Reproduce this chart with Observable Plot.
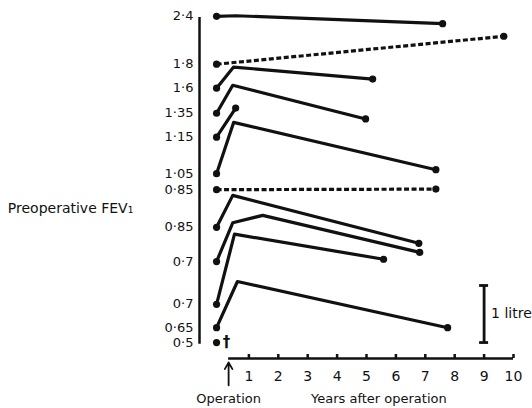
<!DOCTYPE html>
<html>
<head>
<meta charset="utf-8">
<script src="https://cdn.jsdelivr.net/npm/d3@7"></script>
<script src="https://cdn.jsdelivr.net/npm/@observablehq/plot@0.6"></script>
<style>
  html, body { margin: 0; padding: 0; background: #fff; }
  #chart svg { display: block; }
</style>
</head>
<body>
<div id="chart"></div>
<script>
// Preoperative FEV1 (litres) of each patient, top to bottom
const preop = [2.4, 1.8, 1.6, 1.35, 1.15, 1.05, 0.85, 0.85, 0.7, 0.7, 0.65, 0.5];
const preopLabels = ["2·4", "1·8", "1·6", "1·35", "1·15", "1·05", "0·85", "0·85", "0·7", "0·7", "0·65", "0·5"];
// vertical row baseline of each patient on the stacked litre scale
const rowBase = [5.72, 4.88, 4.46, 4.02, 3.60, 2.96, 2.68, 2.02, 1.42, 0.67, 0.26, 0];
// operated (solid) or not (dashed)
const operated = [true, false, true, true, true, true, false, true, true, true, true, true];
const died = [false, false, false, false, false, false, false, false, false, false, false, true];
// time of preoperative measurement (years relative to operation)
const preopYear = -0.1;
// follow-up measurements: years after operation and FEV1 (litres)
const followYears = [
  [0.55, 7.59], [9.67], [0.48, 5.21], [0.45, 4.97], [0.55], [0.48, 7.36],
  [7.36], [0.45, 6.78], [0.45, 1.47, 6.81], [0.51, 5.58], [0.61, 7.76], []
];
const followFev = [
  [2.41, 2.27], [2.29], [1.97, 1.76], [1.84, 1.25], [1.66], [1.95, 1.12],
  [0.86], [1.41, 0.57], [1.38, 1.51, 0.86], [1.93, 1.49], [1.46, 0.65], []
];
const xTicks = [1, 2, 3, 4, 5, 6, 7, 8, 9, 10];
const scaleBarLitres = [0, 1];
const scaleBarYear = 9;
const operationYear = 0.31;

const points = preop.flatMap((p, i) => [
  {id: i, year: preopYear, fev: p, op: operated[i]},
  ...followYears[i].map((yr, j) => ({id: i, year: yr, fev: followFev[i][j], op: operated[i]}))
]).map(d => ({...d, pos: rowBase[d.id] + (d.fev - preop[d.id])}));

const endDots = d3.groups(points, d => d.id).flatMap(([id, pts]) =>
  pts.length > 1 ? [pts[0], pts[pts.length - 1]] : [pts[0]]);

const rows = preop.map((p, i) => ({label: preopLabels[i], pos: rowBase[i], died: died[i]}));

const yMin = -0.28, yMax = 5.997;
const axisX0 = -0.68;
const font = "'DejaVu Sans', 'Open Sans', sans-serif";

const chart = Plot.plot({
  width: 532,
  height: 408,
  marginLeft: 219,
  marginRight: 19,
  marginTop: 0,
  marginBottom: 50,
  style: {fontFamily: font, background: "#fff", color: "#111"},
  x: {domain: [0, 10]},
  y: {domain: [yMin, yMax], axis: null},
  marks: [
    // x axis line and ticks
    Plot.ruleY([yMin], {x1: operationYear, x2: 10, stroke: "#111", strokeWidth: 2.5}),
    Plot.ruleX(xTicks, {x: d => d, y1: yMin, y2: yMin + 0.07, stroke: "#111", strokeWidth: 2.5}),
    Plot.axisX({ticks: xTicks, tickSize: 0, tickPadding: 13, fontSize: 14, label: null}),
    // y axis line and preoperative labels
    Plot.ruleX([axisX0], {y1: -0.03, y2: 5.70, stroke: "#111", strokeWidth: 2.5}),
    Plot.text(rows, {x: axisX0, y: "pos", text: "label", textAnchor: "end", dx: -6, fontSize: 13}),
    Plot.text(["Preoperative FEV₁"], {x: -7.2, y: 2.35, text: d => d, textAnchor: "start", fontSize: 14}),
    // patient trajectories
    Plot.line(points.filter(d => d.op), {x: "year", y: "pos", z: "id", stroke: "#111", strokeWidth: 3.2, strokeLinejoin: "round", strokeLinecap: "round"}),
    Plot.line(points.filter(d => !d.op), {x: "year", y: "pos", z: "id", stroke: "#111", strokeWidth: 3.2, strokeLinecap: "butt", strokeDasharray: "5,2.5"}),
    Plot.dot(endDots, {x: "year", y: "pos", r: 3.6, fill: "#111", stroke: null}),
    Plot.text(rows.filter(d => d.died), {x: preopYear, y: "pos", text: () => "†", dx: 10, fontSize: 15, fontWeight: 700}),
    // operation arrow and axis titles
    Plot.arrow([operationYear], {x1: d => d, x2: d => d, y1: yMin - 0.47, y2: yMin - 0.07, stroke: "#111", strokeWidth: 1.8, headLength: 7}),
    Plot.text(["Operation"], {x: operationYear, y: yMin, dy: 40, text: d => d, fontSize: 13}),
    Plot.text(["Years after operation"], {x: 5.42, y: yMin, dy: 40, text: d => d, fontSize: 13}),
    // 1 litre scale bar
    Plot.ruleX([scaleBarYear], {x: d => d, y1: scaleBarLitres[0], y2: scaleBarLitres[1], stroke: "#111", strokeWidth: 2.8}),
    Plot.ruleY(scaleBarLitres, {y: d => d, x1: scaleBarYear, x2: scaleBarYear, insetLeft: -4.5, insetRight: -4.5, stroke: "#111", strokeWidth: 2.8}),
    Plot.text(["1 litre"], {x: scaleBarYear, y: (scaleBarLitres[0] + scaleBarLitres[1]) / 2, text: d => d, textAnchor: "start", dx: 7, fontSize: 14})
  ]
});
document.getElementById("chart").append(chart);
</script>
</body>
</html>
